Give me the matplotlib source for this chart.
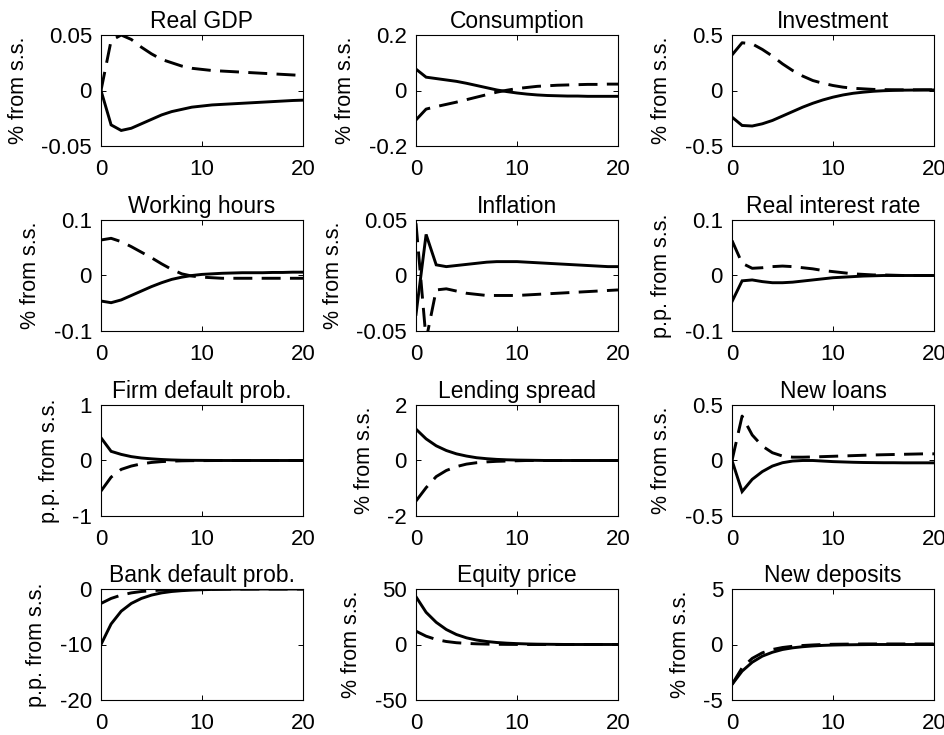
import numpy as np
import matplotlib
matplotlib.use('Agg')
import matplotlib.pyplot as plt

plt.rcParams.update({
    'font.family': ['Liberation Sans', 'DejaVu Sans'],
    'axes.unicode_minus': False,
    'axes.linewidth': 0.8,
})

t = np.arange(21)

titles = ['Real GDP', 'Consumption', 'Investment',
          'Working hours', 'Inflation', 'Real interest rate',
          'Firm default prob.', 'Lending spread', 'New loans',
          'Bank default prob.', 'Equity price', 'New deposits']
ylabels = ['% from s.s.', '% from s.s.', '% from s.s.',
           '% from s.s.', '% from s.s.', 'p.p. from s.s.',
           'p.p. from s.s.', '% from s.s.', '% from s.s.',
           'p.p. from s.s.', '% from s.s.', '% from s.s.']
ylims = [0.05, 0.2, 0.5, 0.1, 0.05, 0.1, 1, 2, 0.5, None, 50, 5]

# solid line
gdp_solid = [0, -0.031, -0.036, -0.034, -0.030, -0.026, -0.022, -0.019, -0.017, -0.015, -0.014,
             -0.013, -0.0125, -0.012, -0.0115, -0.011, -0.0105, -0.010, -0.0095, -0.009, -0.0087]
cons_solid = [0.077, 0.048, 0.043, 0.038, 0.033, 0.026, 0.018, 0.010, 0.002, -0.004, -0.009,
              -0.013, -0.016, -0.018, -0.019, -0.020, -0.020, -0.021, -0.021, -0.021, -0.021]
inv_solid = [-0.24, -0.315, -0.32, -0.30, -0.27, -0.23, -0.19, -0.15, -0.115, -0.085, -0.06,
             -0.04, -0.025, -0.015, -0.007, -0.002, 0.001, 0.003, 0.004, 0.005, 0.005]
hours_solid = [-0.046, -0.049, -0.044, -0.036, -0.028, -0.020, -0.013, -0.007, -0.003, 0.000, 0.002,
               0.003, 0.004, 0.0045, 0.005, 0.005, 0.005, 0.0055, 0.0055, 0.006, 0.006]
infl_solid = [-0.035, 0.037, 0.0096, 0.008, 0.009, 0.010, 0.011, 0.012, 0.0125, 0.0125, 0.0125,
              0.012, 0.0115, 0.011, 0.0105, 0.010, 0.0095, 0.009, 0.0085, 0.008, 0.008]
rate_solid = [-0.047, -0.0096, -0.008, -0.011, -0.013, -0.013, -0.012, -0.010, -0.008, -0.006, -0.004,
              -0.003, -0.002, -0.001, -0.0005, 0, 0, 0, 0, 0, 0]
firm_solid = [0.41, 0.165, 0.11, 0.07, 0.045, 0.03, 0.018, 0.01, 0.005, 0.003, 0.002,
              0.001, 0, 0, 0, 0, 0, 0, 0, 0, 0]
spread_solid = [1.13, 0.78, 0.53, 0.36, 0.24, 0.16, 0.10, 0.065, 0.04, 0.025, 0.015,
                0.01, 0.005, 0, 0, 0, 0, 0, 0, 0, 0]
loans_solid = [0, -0.28, -0.17, -0.10, -0.05, -0.02, -0.005, 0, 0, -0.005, -0.01,
               -0.013, -0.016, -0.018, -0.019, -0.02, -0.02, -0.021, -0.021, -0.021, -0.021]
bank_solid = [-10, -6.3, -4.0, -2.6, -1.7, -1.1, -0.7, -0.45, -0.3, -0.2, -0.13,
              -0.08, -0.05, -0.03, -0.02, -0.01, 0, 0, 0, 0, 0]
equity_solid = [43, 29, 20, 13.5, 9, 6, 4, 2.7, 1.8, 1.2, 0.8,
                0.5, 0.3, 0.2, 0.1, 0, 0, 0, 0, 0, 0]
dep_solid = [-3.6, -2.4, -1.6, -1.05, -0.7, -0.45, -0.3, -0.2, -0.13, -0.08, -0.05,
             -0.03, -0.02, -0.01, 0, 0, 0, 0, 0, 0, 0]

# dashed line
gdp_dash = [0, 0.045, 0.050, 0.046, 0.039, 0.033, 0.028, 0.025, 0.022, 0.020, 0.019,
            0.018, 0.0175, 0.017, 0.0165, 0.016, 0.0155, 0.015, 0.0145, 0.014, 0.0135]
cons_dash = [-0.106, -0.067, -0.058, -0.050, -0.042, -0.033, -0.024, -0.015, -0.006, 0.001, 0.007,
             0.011, 0.015, 0.017, 0.019, 0.020, 0.021, 0.022, 0.022, 0.023, 0.023]
inv_dash = [0.32, 0.43, 0.42, 0.37, 0.31, 0.24, 0.18, 0.13, 0.09, 0.065, 0.045,
            0.03, 0.02, 0.015, 0.01, 0.008, 0.007, 0.006, 0.006, 0.006, 0.006]
hours_dash = [0.064, 0.067, 0.061, 0.052, 0.042, 0.032, 0.021, 0.011, 0.003, -0.001, -0.003,
              -0.004, -0.005, -0.005, -0.005, -0.005, -0.005, -0.005, -0.005, -0.005, -0.005]
infl_dash = [0.047, -0.058, -0.013, -0.012, -0.014, -0.016, -0.017, -0.018, -0.018, -0.018, -0.018,
             -0.0175, -0.017, -0.0165, -0.016, -0.0155, -0.015, -0.0145, -0.014, -0.0135, -0.013]
rate_dash = [0.063, 0.022, 0.013, 0.014, 0.016, 0.017, 0.016, 0.014, 0.012, 0.009, 0.007,
             0.005, 0.003, 0.002, 0.001, 0.001, 0.0005, 0, 0, 0, 0]
firm_dash = [-0.55, -0.30, -0.16, -0.10, -0.06, -0.035, -0.02, -0.012, -0.006, -0.003, -0.002,
             -0.001, 0, 0, 0, 0, 0, 0, 0, 0, 0]
spread_dash = [-1.46, -0.98, -0.58, -0.36, -0.22, -0.13, -0.08, -0.05, -0.03, -0.02, -0.01,
               0, 0, 0, 0, 0, 0, 0, 0, 0, 0]
loans_dash = [0, 0.40, 0.23, 0.13, 0.07, 0.04, 0.03, 0.03, 0.032, 0.035, 0.038,
              0.041, 0.044, 0.047, 0.05, 0.052, 0.054, 0.056, 0.058, 0.06, 0.06]
bank_dash = [-2.6, -1.7, -1.1, -0.7, -0.45, -0.3, -0.2, -0.13, -0.08, -0.05, -0.03,
             -0.02, -0.01, 0, 0, 0, 0, 0, 0, 0, 0]
equity_dash = [12, 7.5, 4.5, 2.7, 1.6, 1.0, 0.6, 0.35, 0.2, 0.1, 0.05,
               0, 0, 0, 0, 0, 0, 0, 0, 0, 0]
dep_dash = [-3.6, -2.1, -1.25, -0.75, -0.45, -0.27, -0.16, -0.09, -0.04, 0, 0.02,
            0.03, 0.04, 0.05, 0.05, 0.05, 0.05, 0.05, 0.05, 0.05, 0.05]

solid = [gdp_solid, cons_solid, inv_solid, hours_solid, infl_solid, rate_solid,
         firm_solid, spread_solid, loans_solid, bank_solid, equity_solid, dep_solid]
dashed = [gdp_dash, cons_dash, inv_dash, hours_dash, infl_dash, rate_dash,
          firm_dash, spread_dash, loans_dash, bank_dash, equity_dash, dep_dash]

W, H = 945, 735
fig = plt.figure(figsize=(W / 100, H / 100), dpi=100)
lefts = [101, 416, 732]
tops = [35, 220, 405, 589]
aw, ah = 202, 111

for i in range(12):
    r, c = divmod(i, 3)
    ax = fig.add_axes([lefts[c] / W, 1 - (tops[r] + ah) / H, aw / W, ah / H])
    ax.plot(t, solid[i], color='k', lw=2.1, solid_joinstyle='miter')
    ax.plot(t, dashed[i], color='k', lw=2.1, dashes=(6.5, 3.2))
    ax.set_xlim(0, 20)
    if ylims[i] is None:
        ax.set_ylim(-20, 0)
        ax.set_yticks([-20, -10, 0])
    else:
        m = ylims[i]
        ax.set_ylim(-m, m)
        ax.set_yticks([-m, 0, m])
    ax.set_xticks([0, 10, 20])
    ax.yaxis.set_major_formatter(matplotlib.ticker.FormatStrFormatter('%g'))
    ax.tick_params(direction='in', top=True, right=True, length=3.5, width=0.7,
                   labelsize=16)
    ax.tick_params(axis='y', pad=6.5)
    ax.tick_params(axis='x', pad=9.5)
    ax.set_title(titles[i], fontsize=16.5, pad=5)
    ax.set_ylabel(ylabels[i], fontsize=15.5, labelpad=9)

fig.savefig('out.png', dpi=100)
